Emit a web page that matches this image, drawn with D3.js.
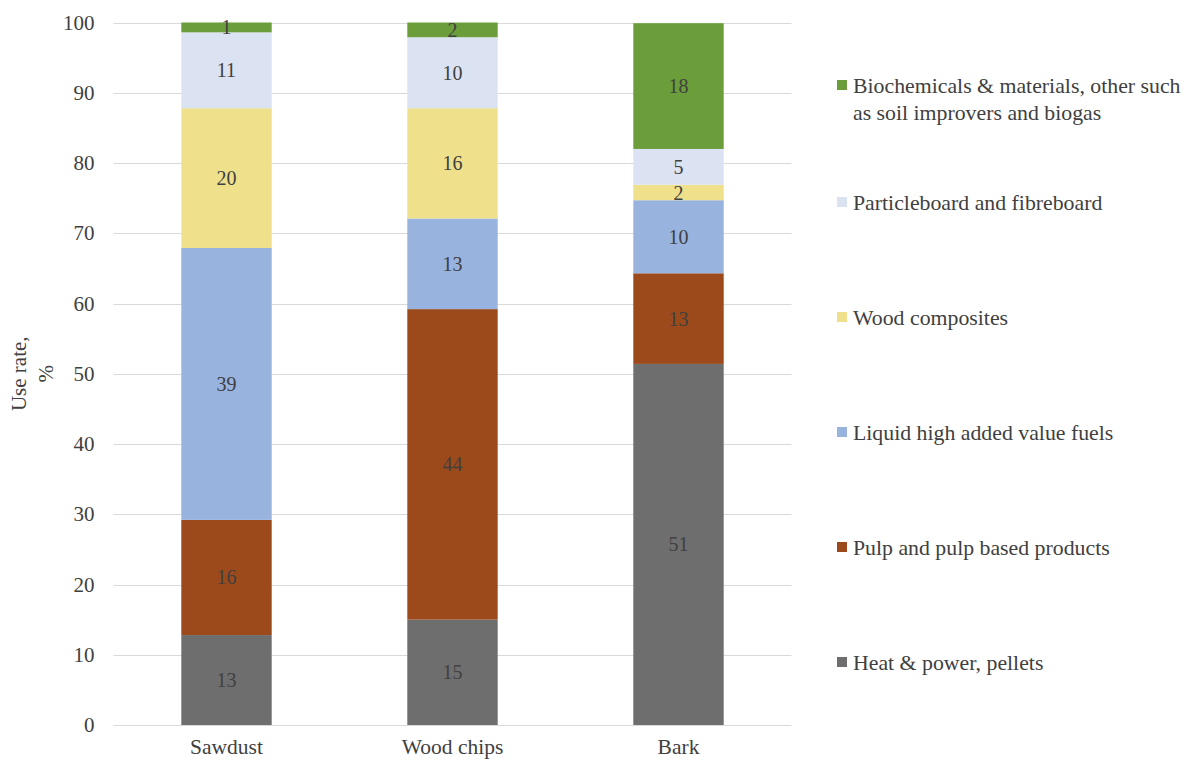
<!DOCTYPE html>
<html>
<head>
<meta charset="utf-8">
<script src="https://cdn.jsdelivr.net/npm/d3@7"></script>
<style>
  body { margin: 0; background: #fff; }
  text { font-family: "Liberation Serif", "Times New Roman", serif; fill: #404040; }
</style>
</head>
<body>
<div id="chart"></div>
<script>
// materials on the x axis
var categories = ["Sawdust", "Wood chips", "Bark"];

// series, bottom to top
var seriesNames = [
  "Heat & power, pellets",
  "Pulp and pulp based products",
  "Liquid high added value fuels",
  "Wood composites",
  "Particleboard and fibreboard",
  "Biochemicals & materials, other such as soil improvers and biogas"
];

// use rate, %
var heatPower   = [12.8, 15.0, 51.4];
var pulp        = [16.4, 44.2, 12.9];
var liquidFuels = [38.7, 12.9, 10.4];
var composites  = [19.9, 15.7, 2.2];
var boards      = [10.8, 10.1, 5.1];
var biochem     = [1.4, 2.1, 17.9];

// labels printed inside the bars
var heatPowerLbl   = [13, 15, 51];
var pulpLbl        = [16, 44, 13];
var liquidFuelsLbl = [39, 13, 10];
var compositesLbl  = [20, 16, 2];
var boardsLbl      = [11, 10, 5];
var biochemLbl     = [1, 2, 18];

var yTicks = [0, 10, 20, 30, 40, 50, 60, 70, 80, 90, 100];

var colors = ["#6e6e6e", "#9c4a1b", "#98b3de", "#efe08c", "#dbe3f2", "#6b9e3b"];

var allValues = [heatPower, pulp, liquidFuels, composites, boards, biochem];
var allLabels = [heatPowerLbl, pulpLbl, liquidFuelsLbl, compositesLbl, boardsLbl, biochemLbl];

var table = categories.map(function(c, i) {
  var row = { cat: c };
  seriesNames.forEach(function(s, j) { row[s] = allValues[j][i]; });
  return row;
});

var serif = "Liberation Serif, Times New Roman, serif";

var w = 1186, h = 763;
var svg = d3.select("#chart").append("svg")
  .attr("width", w)
  .attr("height", h)
  .attr("font-family", serif);

// plot area (window.top is reserved, so name it plotTop)
var plotLeft = 113.5, plotRight = 791.5, plotTop = 22.5, plotBottom = 725;

var xScale = d3.scaleBand()
  .domain(categories)
  .range([plotLeft, plotRight])
  .paddingInner(0.6)
  .paddingOuter(0.3);

var yScale = d3.scaleLinear()
  .domain([0, 100])
  .range([plotBottom, plotTop]);

// gridlines
svg.append("g")
  .selectAll("line")
  .data(yTicks)
  .enter()
  .append("line")
  .attr("x1", plotLeft)
  .attr("x2", plotRight)
  .attr("y1", function(d) { return Math.round(yScale(d)) + 0.5; })
  .attr("y2", function(d) { return Math.round(yScale(d)) + 0.5; })
  .attr("stroke", "#d9d9d9")
  .attr("stroke-width", 1);

// y tick labels
var yAxis = d3.axisLeft(yScale).tickValues(yTicks).tickSize(0).tickPadding(19);
var yg = svg.append("g")
  .attr("transform", "translate(" + plotLeft + ",0)")
  .call(yAxis)
  .attr("font-family", serif);
yg.select(".domain").remove();
yg.selectAll("text")
  .attr("font-size", 21)
  .attr("fill", "#404040");

// x labels
var xAxis = d3.axisBottom(xScale).tickSize(0).tickPadding(14);
var xg = svg.append("g")
  .attr("transform", "translate(0," + plotBottom + ")")
  .call(xAxis)
  .attr("font-family", serif);
xg.select(".domain").remove();
xg.selectAll("text")
  .attr("font-size", 21.5)
  .attr("fill", "#404040");

// stacked bars
var stacked = d3.stack().keys(seriesNames)(table);

var layers = svg.append("g")
  .selectAll("g")
  .data(stacked)
  .enter()
  .append("g")
  .attr("fill", function(d, i) { return colors[i]; });

layers.selectAll("rect")
  .data(function(d) { return d; })
  .enter()
  .append("rect")
  .attr("x", function(d) { return xScale(d.data.cat); })
  .attr("width", xScale.bandwidth())
  .attr("y", function(d) { return yScale(d[1]); })
  .attr("height", function(d) { return yScale(d[0]) - yScale(d[1]); });

// value labels
var labelG = svg.append("g");
stacked.forEach(function(layer, j) {
  labelG.append("g")
    .selectAll("text")
    .data(layer)
    .enter()
    .append("text")
    .attr("x", function(d) { return xScale(d.data.cat) + xScale.bandwidth() / 2; })
    .attr("y", function(d) { return (yScale(d[0]) + yScale(d[1])) / 2; })
    .attr("dy", "0.35em")
    .attr("text-anchor", "middle")
    .attr("font-size", 20)
    .text(function(d, i) { return allLabels[j][i]; });
});

// axis title
var title = svg.append("text")
  .attr("transform", "translate(26," + (plotBottom + plotTop) / 2 + ") rotate(-90)")
  .attr("text-anchor", "middle")
  .attr("font-size", 21);
title.append("tspan").attr("x", 0).attr("dy", 0).text("Use rate,");
title.append("tspan").attr("x", 0).attr("dy", 27).text("%");

// legend, top entry first
var legendY = [85, 202, 317, 432, 547, 662];
var legendLines = [
  ["Biochemicals & materials, other such", "as soil improvers and biogas"],
  ["Particleboard and fibreboard"],
  ["Wood composites"],
  ["Liquid high added value fuels"],
  ["Pulp and pulp based products"],
  ["Heat & power, pellets"]
];

var legend = svg.append("g")
  .selectAll("g")
  .data(legendLines)
  .enter()
  .append("g")
  .attr("transform", function(d, i) { return "translate(837," + legendY[i] + ")"; });

legend.append("rect")
  .attr("x", 0)
  .attr("y", -5)
  .attr("width", 10)
  .attr("height", 10)
  .attr("fill", function(d, i) { return colors[colors.length - 1 - i]; });

legend.append("text")
  .attr("font-size", 21.8)
  .selectAll("tspan")
  .data(function(d) { return d; })
  .enter()
  .append("tspan")
  .attr("x", 16)
  .attr("y", function(d, k) { return k * 27; })
  .attr("dy", "0.35em")
  .text(function(d) { return d; });
</script>
</body>
</html>
